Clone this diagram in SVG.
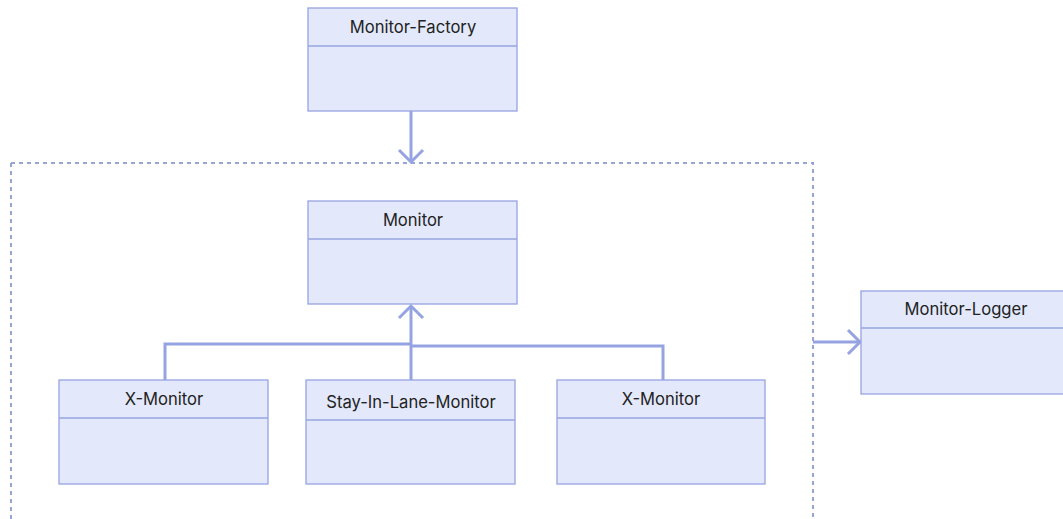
<svg xmlns="http://www.w3.org/2000/svg" width="1063" height="519" viewBox="0 0 1063 519">
<defs>
<style>
.box{fill:#e3e9fb;stroke:#97a4e2;stroke-width:1.3}
.div{stroke:#97a4e2;stroke-width:1.3;fill:none}
.lbl{font-family:Inter,"Liberation Sans",sans-serif;font-size:16.6px;fill:#222;text-anchor:middle}
.con{fill:none;stroke:#95a3e2;stroke-width:3}
.head{fill:none;stroke:#95a3e2;stroke-width:3;stroke-linecap:butt}
.group{fill:none;stroke:#97a4d8;stroke-width:2;stroke-dasharray:4 4}
</style>
</defs>
<rect width="1063" height="519" fill="#ffffff"/>
<path class="group" d="M11,163 H813 V519 M11,163 V519"/>
<g id="connectors">
<path class="con" d="M411,111 V160"/>
<path class="head" d="M399,150 L411,162 L423,150"/>
<path class="con" d="M411,380 V307"/>
<path class="head" d="M399,318 L411,306 L423,318"/>
<path class="con" d="M165,380 V344 H411"/>
<path class="con" d="M663,380 V346 H411"/>
<path class="con" d="M813,342 H858"/>
<path class="head" d="M848,330 L860,342 L848,354"/>
</g>
<g id="monitor-factory">
<rect class="box" x="308" y="8" width="209" height="103"/>
<line class="div" x1="308" y1="46" x2="517" y2="46"/>
<text class="lbl" x="413" y="33">Monitor-Factory</text>
</g>
<g id="monitor">
<rect class="box" x="308" y="201" width="209" height="103"/>
<line class="div" x1="308" y1="239" x2="517" y2="239"/>
<text class="lbl" x="413" y="226">Monitor</text>
</g>
<g id="x-monitor-1">
<rect class="box" x="59" y="380" width="209" height="104"/>
<line class="div" x1="59" y1="418" x2="268" y2="418"/>
<text class="lbl" x="164" y="405">X-Monitor</text>
</g>
<g id="stay-in-lane-monitor">
<rect class="box" x="306" y="380" width="209" height="104"/>
<line class="div" x1="306" y1="420" x2="515" y2="420"/>
<text class="lbl" x="411" y="408">Stay-In-Lane-Monitor</text>
</g>
<g id="x-monitor-2">
<rect class="box" x="557" y="380" width="208" height="104"/>
<line class="div" x1="557" y1="418" x2="765" y2="418"/>
<text class="lbl" x="661" y="405">X-Monitor</text>
</g>
<g id="monitor-logger">
<rect class="box" x="861" y="291" width="209" height="103"/>
<line class="div" x1="861" y1="328" x2="1070" y2="328"/>
<text class="lbl" x="966" y="315">Monitor-Logger</text>
</g>
</svg>
